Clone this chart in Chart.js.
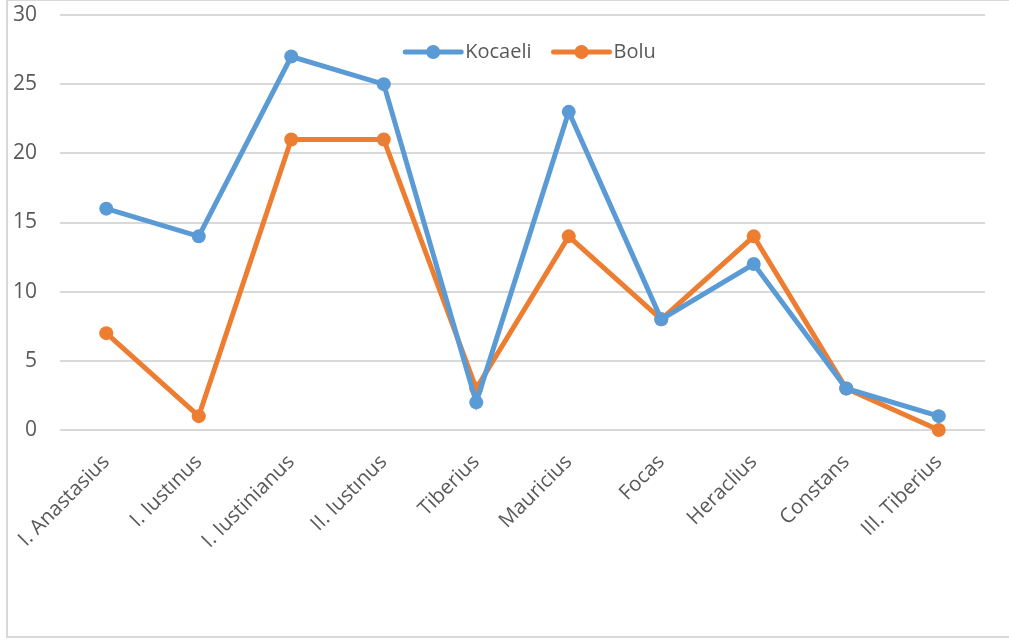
<!DOCTYPE html>
<html>
<head>
<meta charset="utf-8">
<script src="https://cdn.jsdelivr.net/npm/chart.js@4.4.0/dist/chart.umd.min.js"></script>
<style>
    body { margin: 0; background: #fff; overflow: hidden; }
    #wrap { position: relative; width: 1009px; height: 641px; }
    #frame { position: absolute; left: 6px; top: -1px; width: 1100px; height: 639px; border: 2px solid #d9d9d9; box-sizing: border-box; }
    #chart { position: absolute; left: 0; top: 0; }
</style>
</head>
<body>
<div id="wrap">
    <div id="frame"></div>
    <canvas id="chart" width="1009" height="641"></canvas>
</div>
<script>
// Chart data
const emperors = ['I. Anastasius', 'I. Iustınus', 'I. Iustinianus', 'II. Iustınus', 'Tiberius',
    'Mauricius', 'Focas', 'Heraclius', 'Constans', 'III. Tiberius'];
const kocaeli = [16, 14, 27, 25, 2, 23, 8, 12, 3, 1];
const bolu = [7, 1, 21, 21, 3, 14, 8, 14, 3, 0];
const yTicks = [0, 5, 10, 15, 20, 25, 30];

const FONT = "'Open Sans', 'Noto Sans', sans-serif";
const TEXT_COLOR = '#595959';

// Excel-style legend (line + marker) drawn inside the plot area
const insideLegend = {
    id: 'insideLegend',
    afterDraw(chart) {
        const ctx = chart.ctx;
        const area = chart.chartArea;
        ctx.save();
        ctx.font = '20px ' + FONT;
        const lineLen = 56, gapText = 4, gapItem = 22;
        const items = chart.data.datasets.map(ds => ({
            ds: ds,
            w: lineLen + gapText + ctx.measureText(ds.label).width
        }));
        const total = items.reduce((s, it) => s + it.w, 0) + gapItem * (items.length - 1);
        let x = (area.left + area.right) / 2 + 8 - total / 2;
        const y = area.top + 37;
        items.forEach(it => {
            ctx.strokeStyle = it.ds.borderColor;
            ctx.lineWidth = 5;
            ctx.lineCap = 'round';
            ctx.beginPath();
            ctx.moveTo(x, y);
            ctx.lineTo(x + lineLen, y);
            ctx.stroke();
            ctx.fillStyle = it.ds.borderColor;
            ctx.beginPath();
            ctx.arc(x + lineLen / 2, y, 7, 0, Math.PI * 2);
            ctx.fill();
            ctx.fillStyle = TEXT_COLOR;
            ctx.textBaseline = 'middle';
            ctx.textAlign = 'left';
            ctx.fillText(it.ds.label, x + lineLen + gapText, y);
            x += it.w + gapItem;
        });
        ctx.restore();
    }
};

const ctx = document.getElementById('chart').getContext('2d');
new Chart(ctx, {
    type: 'line',
    data: {
        labels: emperors,
        datasets: [
            {
                label: 'Kocaeli',
                data: kocaeli,
                borderColor: '#5B9BD5',
                backgroundColor: '#5B9BD5',
                borderWidth: 5,
                pointRadius: 7,
                pointBorderWidth: 0,
                tension: 0,
                clip: false
            },
            {
                label: 'Bolu',
                data: bolu,
                borderColor: '#ED7D31',
                backgroundColor: '#ED7D31',
                borderWidth: 5,
                pointRadius: 7,
                pointBorderWidth: 0,
                tension: 0,
                clip: false
            }
        ]
    },
    options: {
        responsive: false,
        animation: false,
        layout: {
            padding: { top: 0, right: 24, left: 0, bottom: 0 }
        },
        plugins: {
            legend: { display: false },
            tooltip: { enabled: false }
        },
        scales: {
            x: {
                offset: true,
                grid: { display: false },
                border: { display: false },
                ticks: {
                    autoSkip: false,
                    minRotation: 45,
                    maxRotation: 45,
                    padding: 12,
                    color: TEXT_COLOR,
                    font: { family: FONT, size: 20.5 }
                },
                afterFit(scale) { scale.height = 211; }
            },
            y: {
                min: 0,
                max: 30,
                afterBuildTicks(scale) { scale.ticks = yTicks.map(v => ({ value: v })); },
                grid: { color: '#d9d9d9', lineWidth: 2, drawTicks: false },
                border: { display: false },
                ticks: {
                    padding: 23,
                    color: TEXT_COLOR,
                    font: { family: FONT, size: 21 }
                },
                afterFit(scale) {
                    scale.width = 60;
                    scale.paddingTop = 15;
                    scale.paddingBottom = 0;
                }
            }
        }
    },
    plugins: [insideLegend]
});
</script>
</body>
</html>
